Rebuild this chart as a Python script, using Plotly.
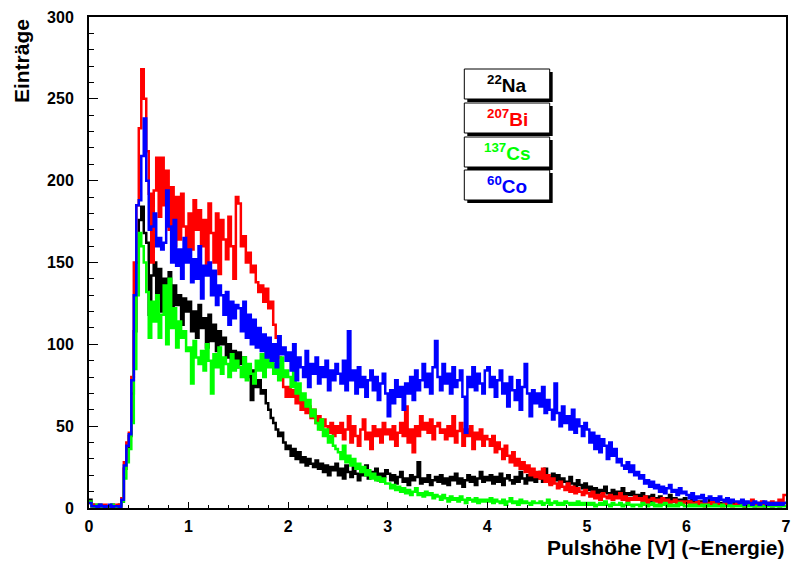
import numpy as np
import plotly.graph_objects as go

BIN_WIDTH = 0.025  # V per bin, 0 .. 7 V

na22 = [
    5,2,1,0,2,1,0,1,1,2,0,1,2,4,24,36,44,70,108,150,
    176,184,168,162,118,142,150,128,146,120,140,132,144,118,136,124,130,112,128,120,
    126,108,120,104,124,110,116,98,118,102,112,96,108,100,104,92,100,88,96,86,
    95,88,92,80,86,66,84,74,78,70,72,64,60,55,52,48,44,46,40,36,
    38,32,36,30,34,28,31,26,30,27,25,29,24,27,22,26,20,25,23,27,
    20,24,18,26,22,19,25,21,17,23,20,26,18,22,19,24,17,21,19,23,
    21,17,20,15,19,22,16,18,14,20,17,19,28,15,18,16,20,14,17,19,
    16,20,15,18,14,19,17,21,15,18,13,17,20,16,19,14,18,22,16,19,
    17,20,15,19,16,21,14,18,20,17,15,19,16,22,18,15,20,17,19,16,
    18,22,16,24,19,15,21,17,20,14,18,16,13,19,15,12,17,14,12,15,
    11,13,9,12,8,11,10,13,9,7,11,8,10,9,12,7,9,8,10,7,
    8,6,9,5,7,4,8,6,5,7,4,6,5,8,4,6,3,5,4,6,
    4,3,5,2,4,3,4,2,3,5,2,3,4,2,3,2,4,3,2,3,
    3,2,3,1,2,3,2,1,3,2,2,1,3,2,1,2,3,1,2,3,
]

bi207 = [
    3,1,2,1,0,1,2,0,1,1,0,2,1,6,28,40,46,80,150,185,
    232,268,250,218,192,150,194,214,178,214,185,206,170,196,160,190,164,192,172,158,
    180,158,188,170,182,160,176,143,186,168,150,180,143,176,164,152,178,160,140,190,
    186,160,166,150,156,144,148,138,132,136,126,134,122,126,112,104,92,82,74,68,
    74,68,72,64,70,60,66,58,62,55,60,52,56,48,54,50,46,52,44,50,
    46,52,42,48,56,40,50,44,38,48,54,42,46,36,50,44,48,40,52,45,
    48,42,50,38,46,52,44,62,40,48,34,50,44,56,48,52,46,54,42,50,
    52,46,48,42,50,44,56,40,47,52,38,48,44,50,36,46,42,48,38,44,
    42,38,44,34,40,36,30,38,32,28,34,26,30,24,28,22,26,20,24,19,
    22,18,24,16,20,14,18,15,12,16,13,11,15,10,13,9,12,10,8,11,
    9,7,10,6,8,5,9,7,6,8,5,7,6,9,5,7,4,6,5,7,
    5,6,4,7,3,5,6,4,5,3,6,4,5,3,4,5,3,4,2,4,
    3,4,2,3,4,2,3,1,3,2,4,2,3,2,1,3,2,3,1,2,
    3,2,4,1,3,2,5,2,3,1,4,2,3,2,4,3,2,5,3,8,
]

cs137 = [
    4,1,0,2,1,0,1,1,0,2,1,0,1,4,18,28,36,52,85,130,
    168,160,150,132,104,126,114,130,104,118,136,100,140,110,122,98,114,104,108,96,
    98,76,102,92,88,96,84,100,90,70,94,86,98,82,92,88,80,94,84,90,
    86,80,92,78,88,82,76,90,84,94,80,98,86,90,82,88,78,92,80,84,
    80,74,84,70,76,66,70,62,66,56,60,52,48,54,44,48,40,44,38,36,
    34,30,38,28,32,26,30,24,27,22,25,20,23,18,21,17,19,16,18,15,
    15,12,14,11,13,10,12,9,11,8,10,12,8,9,7,10,8,9,6,8,
    7,5,8,6,4,7,5,6,4,7,5,3,6,5,4,6,3,5,4,5,
    4,6,3,5,4,3,5,2,4,6,3,4,2,5,3,4,3,2,4,3,
    3,4,2,3,5,2,3,4,2,3,2,4,3,2,3,2,4,2,3,2,
    3,2,3,1,2,3,2,4,2,1,3,2,2,3,1,2,3,2,1,2,
    2,1,3,2,1,2,3,1,2,1,2,3,1,2,1,2,1,3,2,1,
    1,2,1,2,1,1,2,1,2,1,1,2,1,1,2,1,1,2,1,1,
    1,1,2,1,1,2,1,1,1,2,1,1,1,2,1,1,1,1,2,1,
]

co60 = [
    3,1,1,0,2,1,0,1,2,0,1,1,0,5,26,38,45,78,130,185,
    188,215,238,200,170,172,180,160,165,158,162,194,172,150,176,148,158,140,165,150,
    158,138,152,140,160,128,148,142,150,130,145,124,136,130,118,132,112,126,116,124,
    122,108,126,104,118,100,115,98,110,96,106,92,104,90,100,86,105,94,98,90,
    95,84,100,78,92,86,80,96,74,88,82,92,76,86,80,90,72,84,78,88,
    82,76,90,72,108,78,84,70,86,74,80,68,78,84,72,80,66,76,82,70,
    56,72,64,78,68,74,60,76,70,80,66,84,72,78,88,74,82,70,86,102,
    80,72,88,76,82,70,86,74,78,84,68,46,80,74,86,72,82,76,70,84,
    86,74,80,68,78,84,70,76,62,80,72,66,78,60,74,88,70,56,72,64,
    70,62,74,58,66,60,54,76,58,50,62,52,56,48,60,46,54,50,44,52,
    48,40,46,36,44,34,42,38,30,40,32,36,28,30,26,24,28,22,26,20,
    22,18,20,15,17,13,16,12,14,10,13,9,12,14,10,11,8,12,9,10,
    8,6,9,5,7,6,8,4,6,7,5,6,4,7,5,4,6,3,5,4,
    4,3,5,2,4,3,2,4,3,2,3,4,2,3,2,3,2,3,2,3,
]

series = [
    ("22", "Na", na22, "#000000"),
    ("207", "Bi", bi207, "#ff0000"),
    ("137", "Cs", cs137, "#00ff00"),
    ("60", "Co", co60, "#0000ff"),
]

x_title = "Pulshöhe [V] (~Energie)"
y_title = "Einträge"

W, H = 793, 563
ML, MR, MT, MB = 89, 2, 17, 55
PW, PH = W - ML - MR, H - MT - MB

fig = go.Figure()
for mass, elem, counts, color in series:
    n = len(counts)
    edges = np.arange(n + 1) * BIN_WIDTH
    yv = list(counts) + [counts[-1]]
    fig.add_trace(go.Scatter(
        x=edges, y=yv, mode="lines", line=dict(color=color, width=2.5, shape="hv"),
        name=f"{mass}{elem}", showlegend=False, hoverinfo="skip"))

axis_common = dict(
    showline=True, linecolor="black", linewidth=2, mirror=True,
    ticks="inside", tickcolor="black", tickwidth=1,
    showgrid=False, zeroline=False, ticklabeloverflow="allow",
    tickfont=dict(family="Liberation Sans", size=16, color="black", weight="bold"),
)
fig.update_xaxes(range=[0, 7], dtick=1, ticklen=6,
                 minor=dict(dtick=0.2, ticklen=3, ticks="inside", tickcolor="black"),
                 ticklabelstandoff=3, **axis_common)
fig.update_yaxes(range=[0, 300], dtick=50, ticklen=9,
                 minor=dict(dtick=10, ticklen=5, ticks="inside", tickcolor="black"),
                 ticklabelstandoff=10, **axis_common)

annotations = [
    dict(text=f"<b>{x_title}</b>", xref="paper", yref="paper", x=1.0, y=-(H - MT - PH - 2) / PH,
         xanchor="right", yanchor="bottom", showarrow=False,
         font=dict(family="Liberation Sans", size=21, color="black")),
    dict(text=f"<b>{y_title}</b>", xref="paper", yref="paper", x=-(ML - 7) / PW, y=1.0,
         xanchor="left", yanchor="top", textangle=-90, showarrow=False,
         font=dict(family="Liberation Sans", size=21, color="black")),
]

shapes = []
# legend boxes (pixel positions converted to paper)
box_left, box_right = 467, 553
box_tops = [69, 103, 137, 170]
box_h = 30
shadow = 3
def px2paper_x(p):
    return (p - ML) / PW
def px2paper_y(p):
    return (MT + PH - p) / PH
for (mass, elem, counts, color), top in zip(series, box_tops):
    shapes.append(dict(type="rect", xref="paper", yref="paper",
                       x0=px2paper_x(box_left + shadow), x1=px2paper_x(box_right + shadow),
                       y0=px2paper_y(top + box_h + shadow), y1=px2paper_y(top + shadow),
                       fillcolor="black", line=dict(width=0), layer="above"))
    shapes.append(dict(type="rect", xref="paper", yref="paper",
                       x0=px2paper_x(box_left), x1=px2paper_x(box_right),
                       y0=px2paper_y(top + box_h), y1=px2paper_y(top),
                       fillcolor="white", line=dict(color="black", width=1), layer="above"))
    annotations.append(dict(
        text=f"<b><sup>{mass}</sup>{elem}</b>",
        xref="paper", yref="paper",
        x=px2paper_x((box_left + box_right) / 2), y=px2paper_y(top + box_h / 2),
        xanchor="center", yanchor="middle", showarrow=False,
        font=dict(family="Liberation Sans", size=19, color=color)))

fig.update_layout(
    width=W, height=H, margin=dict(l=ML, r=MR, t=MT, b=MB, pad=0),
    plot_bgcolor="white", paper_bgcolor="white",
    shapes=shapes, annotations=annotations, showlegend=False,
)
fig.write_html("out.html")
